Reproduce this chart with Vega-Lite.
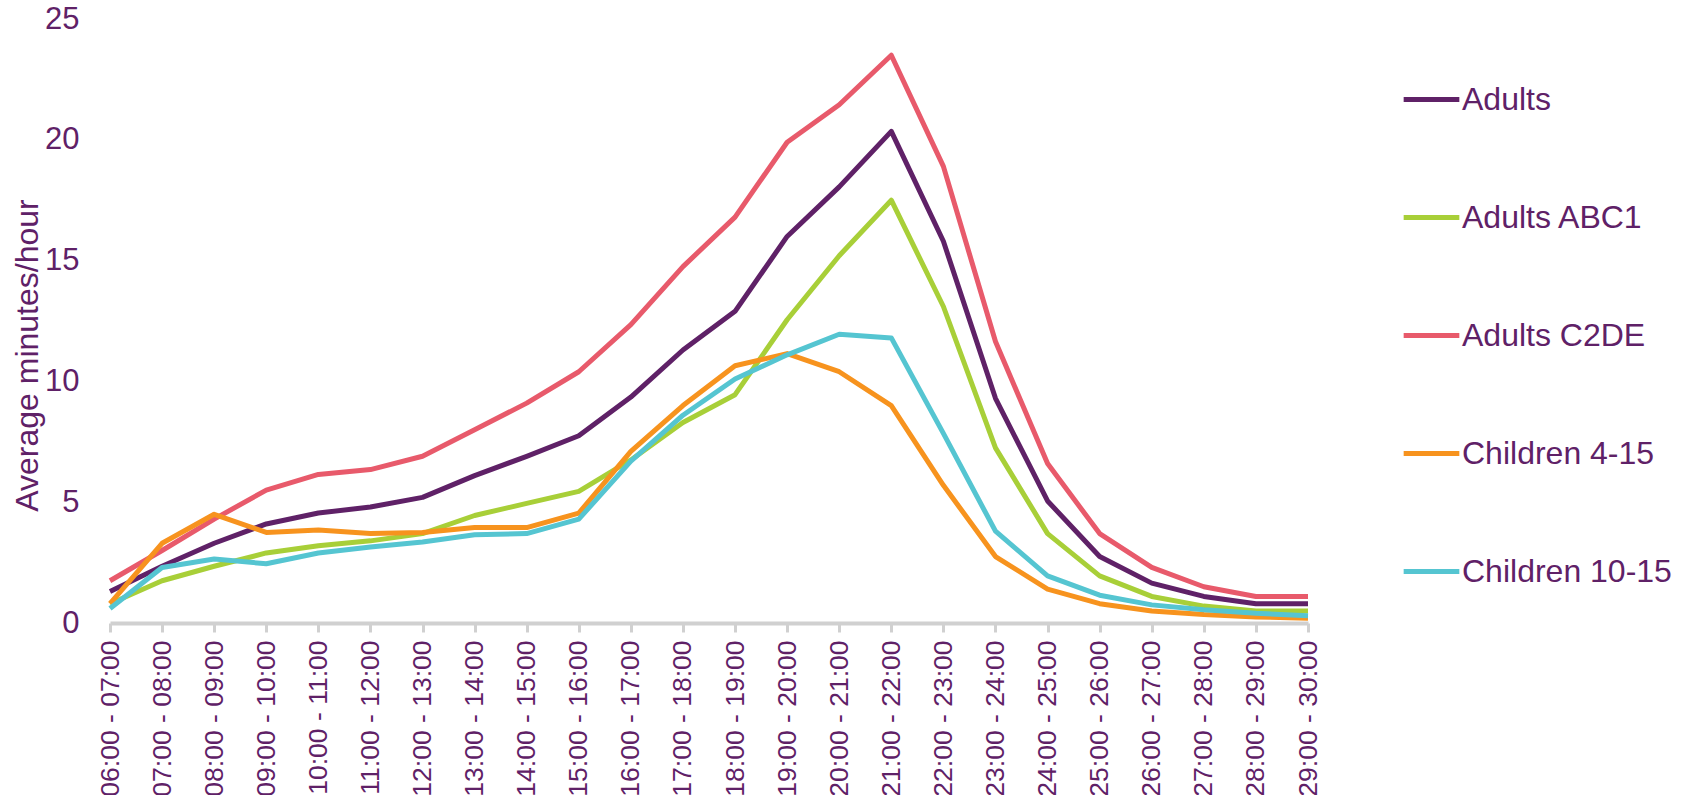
{
  "$schema": "https://vega.github.io/schema/vega-lite/v6.json",
  "width": 1198,
  "height": 604,
  "autosize": "none",
  "padding": {"left": 110, "top": 19, "right": 377, "bottom": 172},
  "background": "white",
  "config": {"view": {"stroke": null}, "font": "Liberation Sans"},
  "data": {
    "values": [
      {"time": "06:00 - 07:00", "Adults": 1.3, "Adults ABC1": 0.8, "Adults C2DE": 1.75, "Children 4-15": 0.8, "Children 10-15": 0.6},
      {"time": "07:00 - 08:00", "Adults": 2.35, "Adults ABC1": 1.75, "Adults C2DE": 3.0, "Children 4-15": 3.3, "Children 10-15": 2.3},
      {"time": "08:00 - 09:00", "Adults": 3.3, "Adults ABC1": 2.35, "Adults C2DE": 4.3, "Children 4-15": 4.5, "Children 10-15": 2.65},
      {"time": "09:00 - 10:00", "Adults": 4.1, "Adults ABC1": 2.9, "Adults C2DE": 5.5, "Children 4-15": 3.75, "Children 10-15": 2.45},
      {"time": "10:00 - 11:00", "Adults": 4.55, "Adults ABC1": 3.2, "Adults C2DE": 6.15, "Children 4-15": 3.85, "Children 10-15": 2.9},
      {"time": "11:00 - 12:00", "Adults": 4.8, "Adults ABC1": 3.4, "Adults C2DE": 6.35, "Children 4-15": 3.7, "Children 10-15": 3.15},
      {"time": "12:00 - 13:00", "Adults": 5.2, "Adults ABC1": 3.7, "Adults C2DE": 6.9, "Children 4-15": 3.75, "Children 10-15": 3.35},
      {"time": "13:00 - 14:00", "Adults": 6.1, "Adults ABC1": 4.45, "Adults C2DE": 8.0, "Children 4-15": 3.95, "Children 10-15": 3.65},
      {"time": "14:00 - 15:00", "Adults": 6.9, "Adults ABC1": 4.95, "Adults C2DE": 9.1, "Children 4-15": 3.95, "Children 10-15": 3.7},
      {"time": "15:00 - 16:00", "Adults": 7.75, "Adults ABC1": 5.45, "Adults C2DE": 10.4, "Children 4-15": 4.55, "Children 10-15": 4.3},
      {"time": "16:00 - 17:00", "Adults": 9.35, "Adults ABC1": 6.75, "Adults C2DE": 12.35, "Children 4-15": 7.1, "Children 10-15": 6.7},
      {"time": "17:00 - 18:00", "Adults": 11.3, "Adults ABC1": 8.3, "Adults C2DE": 14.75, "Children 4-15": 9.0, "Children 10-15": 8.6},
      {"time": "18:00 - 19:00", "Adults": 12.9, "Adults ABC1": 9.45, "Adults C2DE": 16.8, "Children 4-15": 10.65, "Children 10-15": 10.1},
      {"time": "19:00 - 20:00", "Adults": 16.0, "Adults ABC1": 12.55, "Adults C2DE": 19.9, "Children 4-15": 11.15, "Children 10-15": 11.1},
      {"time": "20:00 - 21:00", "Adults": 18.05, "Adults ABC1": 15.2, "Adults C2DE": 21.45, "Children 4-15": 10.4, "Children 10-15": 11.95},
      {"time": "21:00 - 22:00", "Adults": 20.35, "Adults ABC1": 17.5, "Adults C2DE": 23.5, "Children 4-15": 9.0, "Children 10-15": 11.8},
      {"time": "22:00 - 23:00", "Adults": 15.8, "Adults ABC1": 13.1, "Adults C2DE": 18.9, "Children 4-15": 5.7, "Children 10-15": 7.85},
      {"time": "23:00 - 24:00", "Adults": 9.3, "Adults ABC1": 7.25, "Adults C2DE": 11.65, "Children 4-15": 2.75, "Children 10-15": 3.8},
      {"time": "24:00 - 25:00", "Adults": 5.05, "Adults ABC1": 3.7, "Adults C2DE": 6.6, "Children 4-15": 1.4, "Children 10-15": 1.95},
      {"time": "25:00 - 26:00", "Adults": 2.75, "Adults ABC1": 1.95, "Adults C2DE": 3.7, "Children 4-15": 0.8, "Children 10-15": 1.15},
      {"time": "26:00 - 27:00", "Adults": 1.65, "Adults ABC1": 1.1, "Adults C2DE": 2.3, "Children 4-15": 0.5, "Children 10-15": 0.75},
      {"time": "27:00 - 28:00", "Adults": 1.1, "Adults ABC1": 0.7, "Adults C2DE": 1.5, "Children 4-15": 0.35, "Children 10-15": 0.55},
      {"time": "28:00 - 29:00", "Adults": 0.8, "Adults ABC1": 0.5, "Adults C2DE": 1.1, "Children 4-15": 0.25, "Children 10-15": 0.4},
      {"time": "29:00 - 30:00", "Adults": 0.8, "Adults ABC1": 0.5, "Adults C2DE": 1.1, "Children 4-15": 0.2, "Children 10-15": 0.3}
    ]
  },
  "transform": [
    {"fold": ["Adults", "Adults ABC1", "Adults C2DE", "Children 4-15", "Children 10-15"], "as": ["series", "value"]}
  ],
  "mark": {"type": "line", "strokeWidth": 5, "strokeJoin": "round"},
  "encoding": {
    "x": {
      "field": "time",
      "type": "ordinal",
      "sort": null,
      "scale": {"type": "point", "padding": 0},
      "axis": {
        "title": null,
        "labelAngle": 270,
        "labelFontSize": 26.5,
        "labelColor": "#5F2167",
        "labelLimit": 0,
        "domainColor": "#D0D0D0",
        "domainWidth": 4,
        "tickColor": "#D0D0D0",
        "tickWidth": 3,
        "tickSize": 9,
        "labelPadding": 8,
        "grid": false
      }
    },
    "y": {
      "field": "value",
      "type": "quantitative",
      "scale": {"domain": [0, 25]},
      "axis": {
        "title": "Average minutes/hour",
        "values": [0, 5, 10, 15, 20, 25],
        "grid": false,
        "domain": false,
        "ticks": false,
        "tickSize": 0,
        "labelFontSize": 31,
        "labelColor": "#5F2167",
        "labelPadding": 31,
        "titleFontSize": 32,
        "titleFontWeight": "normal",
        "titleColor": "#5F2167",
        "titleX": -83,
        "titleY": 336,
        "titleAngle": 270,
        "titleAlign": "center",
        "titleBaseline": "middle"
      }
    },
    "color": {
      "field": "series",
      "type": "nominal",
      "scale": {
        "domain": ["Adults", "Adults ABC1", "Adults C2DE", "Children 4-15", "Children 10-15"],
        "range": ["#5F2167", "#A8CF38", "#E85A6B", "#F7931E", "#55C5D1"]
      },
      "legend": {
        "title": null,
        "orient": "none",
        "legendX": 1291,
        "legendY": 50,
        "symbolType": "stroke",
        "symbolSize": 3100,
        "symbolStrokeWidth": 5,
        "labelFontSize": 32,
        "labelColor": "#5F2167",
        "labelLimit": 0,
        "labelOffset": 0,
        "rowPadding": 71
      }
    }
  }
}
